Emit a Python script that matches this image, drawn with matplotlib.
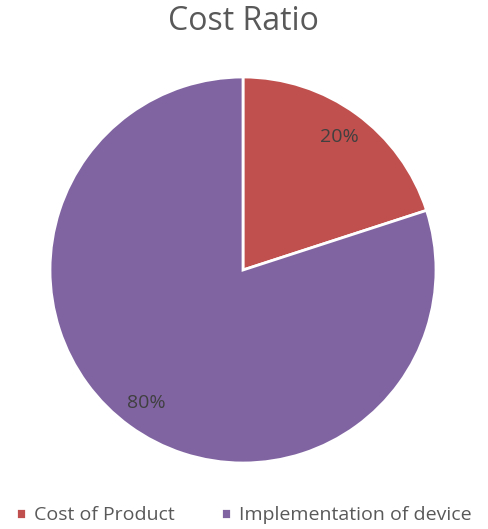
import matplotlib.pyplot as plt

labels = ["Cost of Product", "Implementation of device"]
shares = [20, 80]
colors = ["#C0504D", "#8064A2"]

plt.rcParams["font.family"] = ["Open Sans", "DejaVu Sans"]

fig = plt.figure(figsize=(4.88, 5.29), dpi=100)
W, H = 488, 529
ax = fig.add_axes([50 / W, (H - 463) / H, 386 / W, 386 / H])

wedges, texts, autotexts = ax.pie(
    shares, colors=colors, startangle=90, counterclock=False,
    autopct="%d%%", pctdistance=0.85,
    wedgeprops=dict(edgecolor="white", linewidth=2),
    textprops=dict(color="#404040", fontsize=14))
ax.set_xlim(-1.0, 1.0)
ax.set_ylim(-1.0, 1.0)
ax.set_aspect("equal")

fig.text(243 / W, 1 - 22 / H, "Cost Ratio", ha="center", va="center",
         fontsize=23, color="#595959")

fig.legend(wedges, labels, loc="center", bbox_to_anchor=(0.5, 1 - 515 / H),
           ncol=2, frameon=False, fontsize=14, handlelength=0.5,
           handleheight=0.5, handletextpad=0.4, columnspacing=2.4,
           labelcolor="#595959")

fig.savefig("out.png", dpi=100)
